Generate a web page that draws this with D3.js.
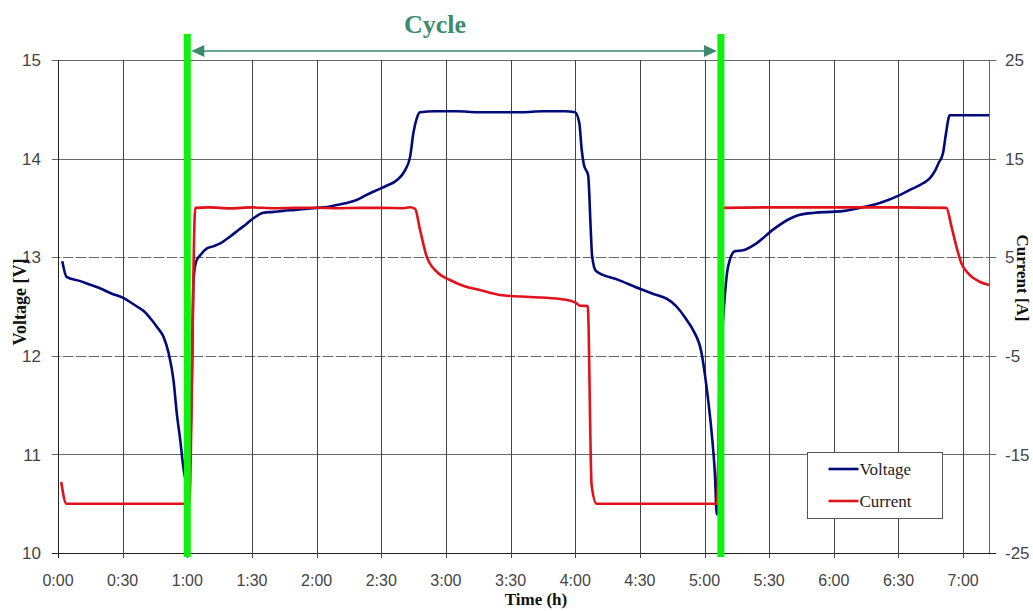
<!DOCTYPE html>
<html>
<head>
<meta charset="utf-8">
<script src="https://cdn.jsdelivr.net/npm/d3@7"></script>
<style>
  body { margin: 0; background: #fff; }
  svg { display: block; }
</style>
</head>
<body>
<div id="chart"></div>
<script>
  "use strict";

  /* DATA (time in minutes from start)
   * =============================== */

  var voltTime = [2, 4, 10, 15, 20, 25, 30, 36.6, 40, 43.6, 46, 49, 51.3, 53.6, 55.2, 56.7, 58.1, 59.3, 61.4, 62.1, 62.9, 64, 66, 69.1, 72, 75.3, 79.9, 84, 87.6, 91, 95.3, 100, 104.4, 110, 115, 120.1, 125, 129.4, 134, 138.6, 143, 147.9, 152, 157.2, 161, 163.4, 164.9, 166.5, 168, 175, 185, 195, 205, 215, 225, 235, 239.9, 241.9, 243, 244, 246, 247.2, 247.8, 249.6, 260, 270, 276, 282.4, 285, 288.6, 291.5, 294.7, 298.6, 300.9, 303.3, 304.8, 305.7, 307, 309.4, 310.5, 311.7, 314.1, 317.9, 324.1, 331.8, 339.6, 344.2, 351, 358.1, 365, 372, 381.3, 390.6, 396, 401.4, 404.5, 406.8, 408.5, 410.7, 412, 413.8, 432]
  var voltValues = [12.96, 12.80, 12.76, 12.72, 12.68, 12.63, 12.59, 12.50, 12.45, 12.36, 12.29, 12.19, 12.03, 11.75, 11.40, 11.15, 10.88, 10.74, 11.12, 11.75, 12.77, 12.95, 13.02, 13.09, 13.11, 13.14, 13.21, 13.28, 13.34, 13.40, 13.45, 13.46, 13.47, 13.48, 13.49, 13.50, 13.51, 13.53, 13.55, 13.58, 13.63, 13.68, 13.72, 13.78, 13.88, 14.02, 14.26, 14.41, 14.47, 14.48, 14.48, 14.47, 14.47, 14.47, 14.48, 14.48, 14.47, 14.36, 14.09, 13.94, 13.83, 13.28, 13.02, 12.86, 12.77, 12.68, 12.63, 12.58, 12.54, 12.46, 12.37, 12.26, 12.03, 11.69, 11.22, 10.81, 10.39, 11.6, 12.6, 12.85, 12.97, 13.06, 13.07, 13.14, 13.28, 13.39, 13.43, 13.45, 13.46, 13.47, 13.50, 13.55, 13.63, 13.69, 13.75, 13.80, 13.87, 13.95, 14.06, 14.25, 14.44, 14.44]

  var currTime = [1.5, 3.9, 30, 58.5, 60.9, 63.7, 70, 80, 90, 100, 110, 120, 130, 140, 150, 160, 163.4, 165.7, 168, 171.1, 175.7, 181.9, 188, 195.8, 205.1, 219, 232.9, 239.9, 242.2, 245.8, 247.6, 249.9, 280, 305.7, 308.5, 330, 360, 390, 412.2, 414.6, 416.9, 419.2, 423.1, 427.7, 432]
  var currValues = [-17.8, -20.0, -20.0, -20.0, -20.0, 10.0, 10.05, 9.95, 10.05, 9.97, 10.0, 10.02, 9.97, 10.0, 10.0, 9.97, 10.06, 9.9, 7.76, 5.05, 3.53, 2.69, 2.1, 1.67, 1.17, 0.96, 0.76, 0.43, 0.08, 0.05, -18.1, -20.0, -20.0, -20.0, 10.0, 10.05, 10.05, 10.05, 10.0, 8.1, 6.06, 4.38, 3.19, 2.51, 2.18]

  var timeTicks = [0, 30, 60, 90, 120, 150, 180, 210, 240, 270, 300, 330, 360, 390, 420]
  var voltTicks = [10, 11, 12, 13, 14, 15]
  var currTicks = [-25, -15, -5, 5, 15, 25]
  var cycleMarks = [60, 307.6]

  /* LAYOUT
   * =============================== */

  var width = 1033
    , height = 611
    , plot = { left: 58, right: 989, top: 60, bottom: 553 }
    , serif = "'Liberation Serif', 'Times New Roman', serif"
    , sans = "'Liberation Sans', Arial, sans-serif"

  var svg = d3.select("#chart")
    .append("svg")
      .attr("width", width)
      .attr("height", height)

  var x = d3.scaleLinear().domain([0, 432]).range([plot.left, plot.right])
    , yV = d3.scaleLinear().domain([10, 15]).range([plot.bottom, plot.top])
    , yI = d3.scaleLinear().domain([-25, 25]).range([plot.bottom, plot.top])

  function fmtTime (m) {
    var h = Math.floor(m / 60)
      , mm = m % 60
    return h + ":" + (mm < 10 ? "0" : "") + mm
  }

  /* GRID
   * =============================== */

  var grid = svg.append("g")

  // horizontal lines (left and right axis share the same heights)
  grid.selectAll("line.h")
      .data(voltTicks)
    .enter().append("line")
      .attr("class", "h")
      .attr("x1", plot.left - 6)
      .attr("x2", plot.right + 7)
      .attr("y1", function (d) { return Math.round(yV(d)) + 0.5 })
      .attr("y2", function (d) { return Math.round(yV(d)) + 0.5 })
      .attr("stroke", function (d) { return d === 10 ? "#222" : "#666" })
      .attr("stroke-width", 1.2)

  // the two middle ones look dashed in the original
  grid.selectAll("line.dash")
      .data([12, 13])
    .enter().append("line")
      .attr("x1", plot.left + 2)
      .attr("x2", plot.right)
      .attr("y1", function (d) { return Math.round(yV(d)) + 0.5 })
      .attr("y2", function (d) { return Math.round(yV(d)) + 0.5 })
      .attr("stroke", "#fff")
      .attr("stroke-width", 1.4)
      .attr("stroke-dasharray", "3,10")
      .attr("opacity", 0.75)

  // vertical lines with ticks below the axis
  grid.selectAll("line.v")
      .data(timeTicks)
    .enter().append("line")
      .attr("x1", function (d) { return Math.round(x(d)) + 0.5 })
      .attr("x2", function (d) { return Math.round(x(d)) + 0.5 })
      .attr("y1", plot.top)
      .attr("y2", plot.bottom + 5)
      .attr("stroke", function (d) { return d === 0 ? "#222" : "#444" })
      .attr("stroke-width", 1)

  // right border
  grid.append("line")
    .attr("x1", plot.right + 0.5)
    .attr("x2", plot.right + 0.5)
    .attr("y1", plot.top)
    .attr("y2", plot.bottom)
    .attr("stroke", "#666")

  /* AXES TEXT
   * =============================== */

  svg.append("g").selectAll("text")
      .data(timeTicks)
    .enter().append("text")
      .text(fmtTime)
      .attr("x", function (d) { return x(d) })
      .attr("y", 586)
      .attr("text-anchor", "middle")
      .attr("font-family", sans)
      .attr("font-size", "16px")
      .attr("fill", "#444")

  svg.append("g").selectAll("text")
      .data(voltTicks)
    .enter().append("text")
      .text(function (d) { return d })
      .attr("x", 41)
      .attr("y", function (d) { return yV(d) })
      .attr("dy", "0.36em")
      .attr("text-anchor", "end")
      .attr("font-family", sans)
      .attr("font-size", "17px")
      .attr("fill", "#444")

  svg.append("g").selectAll("text")
      .data(currTicks)
    .enter().append("text")
      .text(function (d) { return d })
      .attr("x", 1005)
      .attr("y", function (d) { return yI(d) })
      .attr("dy", "0.36em")
      .attr("font-family", sans)
      .attr("font-size", "17px")
      .attr("fill", "#444")

  svg.append("text")
    .text("Voltage [V]")
    .attr("transform", "translate(26,302) rotate(-90)")
    .attr("text-anchor", "middle")
    .attr("font-family", serif)
    .attr("font-weight", "bold")
    .attr("font-size", "18px")
    .attr("fill", "#111")

  svg.append("text")
    .text("Current [A]")
    .attr("transform", "translate(1017,278) rotate(90)")
    .attr("text-anchor", "middle")
    .attr("font-family", serif)
    .attr("font-weight", "bold")
    .attr("font-size", "17px")
    .attr("fill", "#111")

  svg.append("text")
    .text("Time (h)")
    .attr("x", 536)
    .attr("y", 605)
    .attr("text-anchor", "middle")
    .attr("font-family", serif)
    .attr("font-weight", "bold")
    .attr("font-size", "17px")
    .attr("fill", "#111")

  /* SERIES
   * =============================== */

  var voltLine = d3.line()
    .x(function (d, i) { return x(voltTime[i]) })
    .y(function (d) { return yV(d) })
    .curve(d3.curveMonotoneX)

  var currLine = d3.line()
    .x(function (d, i) { return x(currTime[i]) })
    .y(function (d) { return yI(d) })
    .curve(d3.curveMonotoneX)

  svg.append("path")
    .attr("d", voltLine(voltValues))
    .attr("fill", "none")
    .attr("stroke", "#000a78")
    .attr("stroke-width", 2.6)
    .attr("stroke-linejoin", "round")

  svg.append("path")
    .attr("d", currLine(currValues))
    .attr("fill", "none")
    .attr("stroke", "#e2121c")
    .attr("stroke-width", 2.6)
    .attr("stroke-linejoin", "round")

  /* CYCLE MARKERS
   * =============================== */

  svg.selectAll("line.cycle")
      .data(cycleMarks)
    .enter().append("line")
      .attr("x1", function (d) { return x(d) })
      .attr("x2", function (d) { return x(d) })
      .attr("y1", 34)
      .attr("y2", 557)
      .attr("stroke", "#0ef00e")
      .attr("stroke-width", 7)

  var arrowY = 51
    , ax1 = x(cycleMarks[0]) + 4
    , ax2 = x(cycleMarks[1]) - 4
    , arrowColor = "#3d8a6c"

  svg.append("line")
    .attr("x1", ax1 + 10)
    .attr("x2", ax2 - 10)
    .attr("y1", arrowY)
    .attr("y2", arrowY)
    .attr("stroke", arrowColor)
    .attr("stroke-width", 1.3)

  svg.append("path")
    .attr("d", "M" + ax1 + "," + arrowY + "l13,-6v12z")
    .attr("fill", arrowColor)

  svg.append("path")
    .attr("d", "M" + ax2 + "," + arrowY + "l-13,-6v12z")
    .attr("fill", arrowColor)

  svg.append("text")
    .text("Cycle")
    .attr("x", 435)
    .attr("y", 33)
    .attr("text-anchor", "middle")
    .attr("font-family", serif)
    .attr("font-weight", "bold")
    .attr("font-size", "26px")
    .attr("fill", arrowColor)

  /* LEGEND
   * =============================== */

  var legend = svg.append("g")
    .attr("transform", "translate(807.5,452.5)")

  legend.append("rect")
    .attr("width", 135)
    .attr("height", 66)
    .attr("fill", "#fff")
    .attr("stroke", "#555")
    .attr("stroke-width", 1)

  legend.selectAll("g")
      .data([{ text: "Voltage", color: "#000a78" }, { text: "Current", color: "#e2121c" }])
    .enter().append("g")
      .attr("transform", function (d, i) { return "translate(0," + (16.5 + i * 32) + ")" })
      .each(function (d) {
        var g = d3.select(this)
        g.append("line")
          .attr("x1", 21)
          .attr("x2", 51)
          .attr("stroke", d.color)
          .attr("stroke-width", 2.6)
        g.append("text")
          .text(d.text)
          .attr("x", 52)
          .attr("y", 6)
          .attr("font-family", serif)
          .attr("font-size", "17px")
          .attr("fill", "#222")
      })
</script>
</body>
</html>
